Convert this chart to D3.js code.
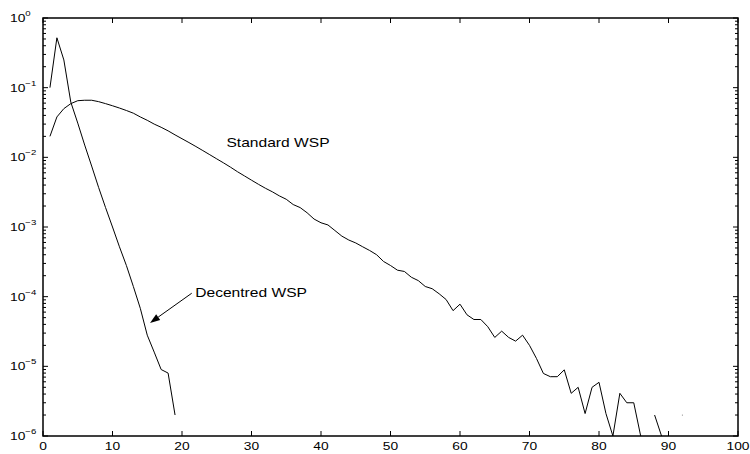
<!DOCTYPE html>
<html>
<head>
<meta charset="utf-8">
<script src="https://cdn.jsdelivr.net/npm/d3@7/dist/d3.min.js"></script>
<style>
  html, body { margin: 0; padding: 0; background: #fff; }
  text { font-family: "Liberation Sans", Arial, Helvetica, sans-serif; fill: #000; }
</style>
</head>
<body>
<div id="chart"></div>
<script>
// x positions (samples) for both curves
const decentredX = [1, 2, 3, 4, 5, 6, 7, 8, 9, 10, 11, 12, 13, 14, 15, 16, 17, 18, 19];
const decentredY = [0.10, 0.52, 0.25, 0.062, 0.031, 0.015, 0.0075, 0.0037, 0.0019, 0.0010,
  0.00052, 0.00028, 0.00014, 0.000068, 0.000028, 0.000016, 0.0000090, 0.0000080, 0.0000020];

const standardX = d3.range(1, 93);
// 0 means no sample (gap on a log axis)
const standardY = [
  0.020, 0.038, 0.050, 0.059, 0.065, 0.066, 0.066, 0.063, 0.059, 0.055,
  0.051, 0.047, 0.043, 0.038, 0.034, 0.030, 0.027, 0.024, 0.021, 0.0185,
  0.0163, 0.0143, 0.0125, 0.0109, 0.0095, 0.0083, 0.0072, 0.0062, 0.0054, 0.0047,
  0.0041, 0.0036, 0.0032, 0.0028, 0.0025, 0.0021, 0.0019, 0.0016, 0.0013, 0.00115,
  0.00107, 0.00089, 0.00074, 0.00065, 0.00059, 0.00052, 0.00046, 0.00040, 0.00032, 0.00028,
  0.00024, 0.00023, 0.00019, 0.00017, 0.00014, 0.00013, 0.00011, 0.000091, 0.000063, 0.000078,
  0.000055, 0.000047, 0.000047, 0.000037, 0.000026, 0.000032, 0.000026, 0.000023, 0.000028, 0.000020,
  0.000013, 0.0000079, 0.0000071, 0.0000071, 0.0000089, 0.0000041, 0.0000050, 0.0000021, 0.0000050, 0.0000059,
  0.0000021, 0.0000010, 0.0000041, 0.0000030, 0.0000030, 0.0000010, 0, 0.0000020, 0.0000010, 0,
  0, 0.0000020
];

const xTicks = [0, 10, 20, 30, 40, 50, 60, 70, 80, 90, 100];
const yExponents = [0, -1, -2, -3, -4, -5, -6];

// annotations, in data units
const labels = [
  {text: 'Standard WSP', x: 26.4, y: 0.0142},
  {text: 'Decentred WSP', x: 21.9, y: 0.000098}
];
const arrow = {x1: 21.4, y1: 0.000112, x2: 15.4, y2: 0.000042};

const width = 750, height = 454;
const margin = {top: 18, right: 12, bottom: 18, left: 43};
const sx = 1.2; // glyphs in the source are a bit wide

const svg = d3.select('#chart').append('svg')
  .attr('width', width)
  .attr('height', height);

const x = d3.scaleLinear().domain([0, 100]).range([margin.left, width - margin.right]);
const y = d3.scaleLog().domain([1e-6, 1]).range([height - margin.bottom, margin.top]);

svg.append('clipPath').attr('id', 'plot')
  .append('rect')
  .attr('x', x(0)).attr('y', y(1))
  .attr('width', x(100) - x(0)).attr('height', y(1e-6) - y(1));

// ticks (inward, on all four sides)
const tickG = svg.append('g').attr('stroke', '#000').attr('stroke-width', 1);
xTicks.forEach(t => {
  tickG.append('line').attr('x1', x(t)).attr('x2', x(t))
    .attr('y1', y(1e-6)).attr('y2', y(1e-6) - 5);
  tickG.append('line').attr('x1', x(t)).attr('x2', x(t))
    .attr('y1', y(1)).attr('y2', y(1) + 5);
});
yExponents.forEach(e => {
  const v = Math.pow(10, e);
  [[x(0), 5], [x(100), -5]].forEach(([px, len]) => {
    tickG.append('line').attr('x1', px).attr('x2', px + len)
      .attr('y1', y(v)).attr('y2', y(v));
    if (e < 0) {
      for (let m = 2; m <= 9; m++) {
        tickG.append('line').attr('x1', px).attr('x2', px + len * 0.6)
          .attr('y1', y(v * m)).attr('y2', y(v * m));
      }
    }
  });
});

// box
svg.append('rect')
  .attr('x', x(0)).attr('y', y(1))
  .attr('width', x(100) - x(0)).attr('height', y(1e-6) - y(1))
  .attr('fill', 'none').attr('stroke', '#000').attr('stroke-width', 1.5);

// tick labels
xTicks.forEach(t => {
  svg.append('text')
    .attr('transform', `translate(${x(t)},${y(1e-6) + 14}) scale(${sx},1)`)
    .attr('text-anchor', 'middle')
    .attr('font-size', 11.5)
    .text(t);
});
yExponents.forEach(e => {
  const tx = svg.append('text')
    .attr('transform', `translate(10,${y(Math.pow(10, e)) + 4}) scale(${sx},1)`)
    .attr('font-size', 11.5);
  tx.append('tspan').text('10');
  tx.append('tspan').attr('dy', -6).attr('font-size', 8)
    .text(e === 0 ? '0' : '\u2212' + Math.abs(e));
});

// curves
const line = d3.line()
  .defined(d => d[1] > 0)
  .x(d => x(d[0]))
  .y(d => y(d[1]));

const plot = svg.append('g').attr('clip-path', 'url(#plot)');

const standard = standardX.map((v, i) => [v, standardY[i]]);
const decentred = decentredX.map((v, i) => [v, decentredY[i]]);

[standard, decentred].forEach(series => {
  plot.append('path')
    .datum(series)
    .attr('d', line)
    .attr('fill', 'none')
    .attr('stroke', '#000')
    .attr('stroke-width', 1);
});

// lone samples, no neighbours to join
const lone = standard.filter((d, i) => d[1] > 0
  && !(standard[i - 1] && standard[i - 1][1] > 0)
  && !(standard[i + 1] && standard[i + 1][1] > 0));
plot.selectAll('circle.lone').data(lone).enter().append('circle')
  .attr('cx', d => x(d[0])).attr('cy', d => y(d[1]))
  .attr('r', 0.6).attr('fill', '#888');

// annotations
labels.forEach(l => {
  svg.append('text')
    .attr('transform', `translate(${x(l.x)},${y(l.y)}) scale(${sx},1)`)
    .attr('font-size', 13)
    .text(l.text);
});

const ax1 = x(arrow.x1), ay1 = y(arrow.y1), ax2 = x(arrow.x2), ay2 = y(arrow.y2);
const ang = Math.atan2(ay2 - ay1, ax2 - ax1);
const headL = 10, headW = 3.5;
const bx = ax2 - headL * Math.cos(ang), by = ay2 - headL * Math.sin(ang);
svg.append('line')
  .attr('x1', ax1).attr('y1', ay1).attr('x2', bx).attr('y2', by)
  .attr('stroke', '#000').attr('stroke-width', 1);
svg.append('path')
  .attr('d', `M${ax2},${ay2}L${bx - headW * Math.sin(ang)},${by + headW * Math.cos(ang)}` +
    `L${bx + headW * Math.sin(ang)},${by - headW * Math.cos(ang)}Z`)
  .attr('fill', '#000');
</script>
</body>
</html>
